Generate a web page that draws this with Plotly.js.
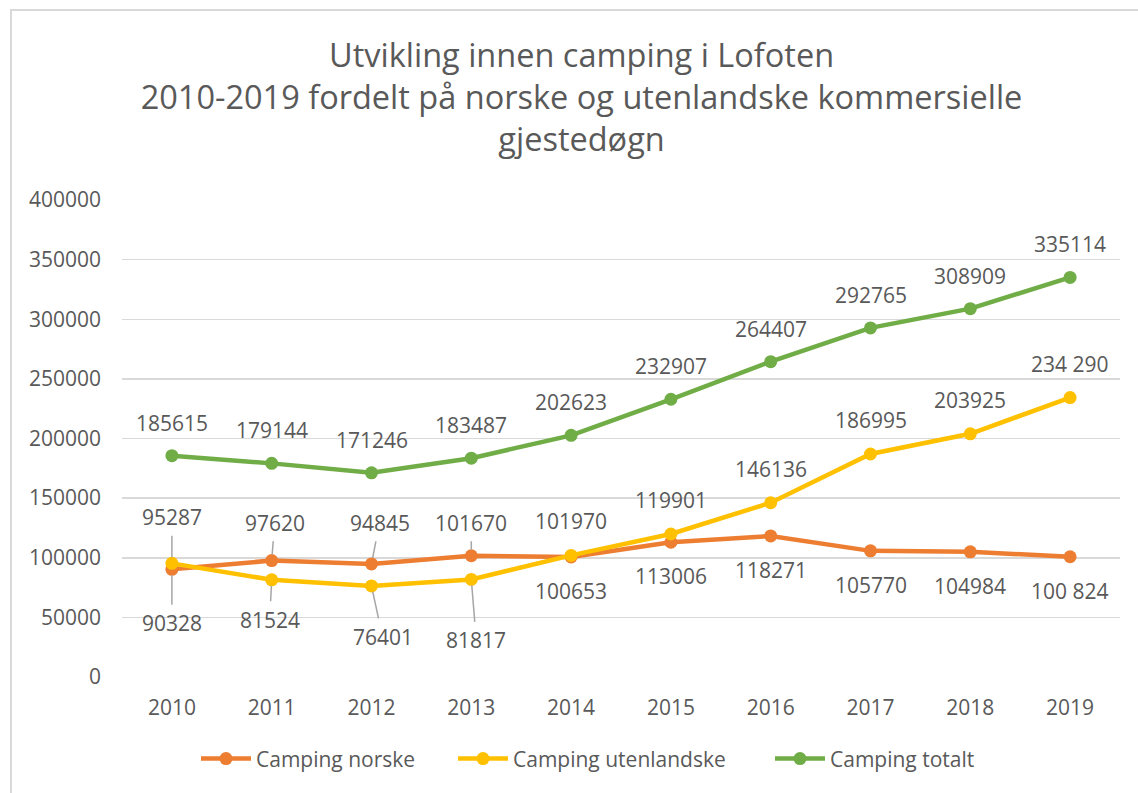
<!DOCTYPE html>
<html>
<head>
<meta charset="utf-8">
<script src="https://cdn.plot.ly/plotly-3.0.1.min.js"></script>
<style>
  html, body { margin: 0; padding: 0; background: #fff; }
  #chart { width: 1138px; height: 793px; }
  #frame { position: absolute; left: 10px; top: 9px; width: 1200px; height: 900px;
           border-left: 2px solid #d9d9d9; border-top: 2px solid #d9d9d9; pointer-events: none; }
</style>
</head>
<body>
<div id="chart"></div>
<div id="frame"></div>
<script>
const years = ['2010','2011','2012','2013','2014','2015','2016','2017','2018','2019'];
const norske = [90328, 97620, 94845, 101670, 100653, 113006, 118271, 105770, 104984, 100824];
const utenlandske = [95287, 81524, 76401, 81817, 101970, 119901, 146136, 186995, 203925, 234290];
const totalt = [185615, 179144, 171246, 183487, 202623, 232907, 264407, 292765, 308909, 335114];
const norskeLabels = ['90328','97620','94845','101670','100653','113006','118271','105770','104984','100 824'];
const utenLabels = ['95287','81524','76401','81817','101970','119901','146136','186995','203925','234 290'];
const totalLabels = ['185615','179144','171246','183487','202623','232907','264407','292765','308909','335114'];
const seriesNames = ['Camping norske', 'Camping utenlandske', 'Camping totalt'];

const FONT = 'Open Sans, sans-serif';
const GRAY = '#595959';
const LBL = 21;

function tr(name, y, color, leg) {
  return {
    type: 'scatter', mode: 'lines+markers', name: name, x: years, y: y,
    line: {color: color, width: 4.5},
    marker: {color: color, size: 13},
    legend: leg,
    hoverinfo: 'skip'
  };
}

// label offsets in pixels: [dx, dy, leader line]
const norskePos = [[0,54,true],[3,-38,true],[8,-41,true],[0,-33,true],[0,34,false],[0,34,false],[0,34,false],[0,34,false],[0,34,false],[0,34,false]];
const utenPos = [[0,-46,true],[-2,40,true],[11,51,true],[5,61,true],[0,-34,false],[0,-34,false],[0,-34,false],[0,-34,false],[0,-34,false],[0,-34,false]];

const annotations = [];
function addLabels(vals, labels, pos) {
  vals.forEach(function(v, i) {
    const p = pos[i];
    if (p[2]) {
      annotations.push({x: i, y: v, xref: 'x', yref: 'y', text: labels[i],
        showarrow: true, ax: p[0], ay: p[1], arrowhead: 0, arrowwidth: 1.5, arrowcolor: '#a6a6a6',
        standoff: 6, borderpad: 4, font: {family: FONT, size: LBL, color: GRAY}});
    } else {
      annotations.push({x: i, y: v, xref: 'x', yref: 'y', text: labels[i],
        showarrow: false, xshift: p[0], yshift: -p[1], font: {family: FONT, size: LBL, color: GRAY}});
    }
  });
}
addLabels(norske, norskeLabels, norskePos);
addLabels(utenlandske, utenLabels, utenPos);
addLabels(totalt, totalLabels, totalt.map(function(){ return [0,-33,false]; }));

function leg(x) {
  return {orientation: 'h', x: x, xanchor: 'left', xref: 'container', y: 0.043, yref: 'container', yanchor: 'middle',
    font: {family: FONT, size: LBL, color: GRAY}, itemwidth: 50, bgcolor: 'rgba(0,0,0,0)'};
}

const layout = {
  width: 1138, height: 793,
  margin: {l: 122, r: 18, t: 200, b: 116},
  paper_bgcolor: '#ffffff', plot_bgcolor: '#ffffff',
  font: {family: FONT, color: GRAY, size: LBL},
  title: {
    text: 'Utvikling innen camping i Lofoten<br>2010-2019 fordelt på norske og utenlandske kommersielle<br>gjestedøgn',
    font: {family: FONT, size: 32.5, color: GRAY},
    x: 0.511, xref: 'container', xanchor: 'center',
    y: 0.916, yref: 'container', yanchor: 'middle'
  },
  xaxis: {
    type: 'category', range: [-0.5, 9.5], showgrid: false, zeroline: false,
    showline: false, ticks: '', ticklabelstandoff: 16, tickfont: {family: FONT, size: LBL, color: GRAY}
  },
  yaxis: {
    range: [0, 400000], dtick: 50000, tickformat: 'd',
    showgrid: true, gridcolor: '#d9d9d9', gridwidth: 1.5, zeroline: false, showline: false,
    ticks: '', ticklabelstandoff: 20, tickfont: {family: FONT, size: LBL, color: GRAY}
  },
  legend: leg(196 / 1138),
  legend2: leg(453 / 1138),
  legend3: leg(770 / 1138),
  annotations: annotations,
  showlegend: true
};

Plotly.newPlot('chart', [
  tr(seriesNames[0], norske, '#ED7D31', 'legend'),
  tr(seriesNames[1], utenlandske, '#FFC000', 'legend2'),
  tr(seriesNames[2], totalt, '#70AD47', 'legend3')
], layout, {displayModeBar: false, staticPlot: true});
</script>
</body>
</html>
